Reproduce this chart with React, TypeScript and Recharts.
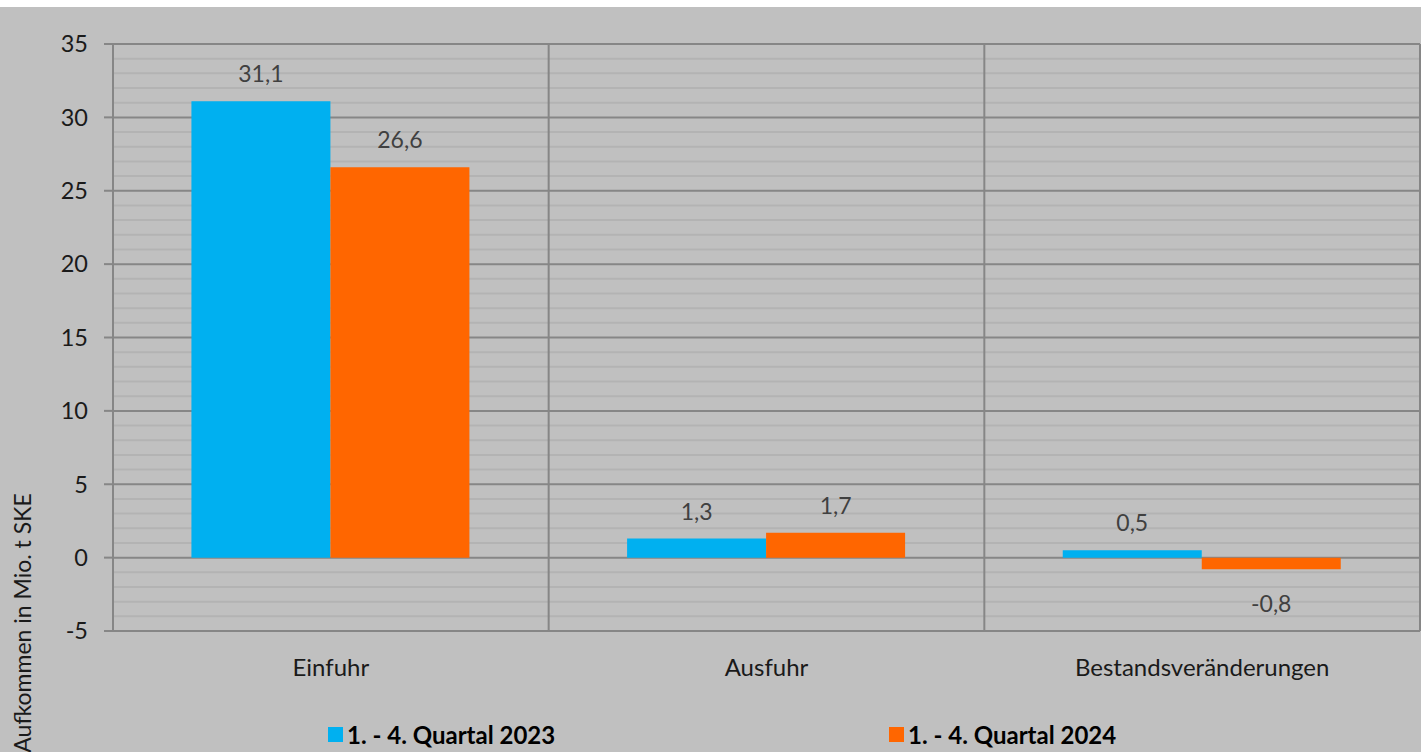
import React from "react";
import { BarChart, Bar, XAxis, YAxis, CartesianGrid, Legend, LabelList } from "recharts";

const categories = ["Einfuhr", "Ausfuhr", "Bestandsveränderungen"];
const series2023 = [31.1, 1.3, 0.5];
const series2024 = [26.6, 1.7, -0.8];
const seriesNames = ["1. - 4. Quartal 2023", "1. - 4. Quartal 2024"];
const yTicks = [-5, 0, 5, 10, 15, 20, 25, 30, 35];
const minorTicks = [-4, -3, -2, -1, 1, 2, 3, 4, 6, 7, 8, 9, 11, 12, 13, 14, 16, 17, 18, 19, 21, 22, 23, 24, 26, 27, 28, 29, 31, 32, 33, 34];
const Y_MIN = -5;
const Y_MAX = 35;

const data = categories.map((c, i) => ({ name: c, a: series2023[i], b: series2024[i] }));

const COLORS = ["#00B0F0", "#FF6600"];
const FONT = "Lato, 'Open Sans', sans-serif";
const BG = "#c0c0c0";
const MAJOR = "#868686";
const MINOR = "#b3b3b3";

const fmt = (v: number) => String(v).replace(".", ",");

const renderLabel = (props: any) => {
  const { x, y, width, height, value } = props;
  const top = Math.min(y, y + height);
  const bottom = Math.max(y, y + height);
  const neg = value < 0;
  return (
    <text
      x={x + width / 2}
      y={neg ? bottom + 43 : top - 19}
      textAnchor="middle"
      fill="#404040"
      fontSize={23}
      fontFamily={FONT}
    >
      {fmt(value)}
    </text>
  );
};

const renderLegend = () => (
  <div style={{ display: "flex", paddingLeft: 328, paddingTop: 8, fontFamily: FONT, fontWeight: 700, fontSize: 24, color: "#000" }}>
    {seriesNames.map((n, i) => (
      <div key={n} style={{ display: "flex", alignItems: "center", width: i === 0 ? 561 : 300 }}>
        <span style={{ display: "inline-block", width: 15, height: 15, background: COLORS[i], marginRight: 4 }} />
        <span>{n}</span>
      </div>
    ))}
  </div>
);

const YTitle = () => (
  <text
    x={31}
    y={616}
    transform="rotate(-90 31 616)"
    textAnchor="middle"
    fontSize={23}
    fontFamily={FONT}
    fill="#1a1a1a"
  >
    Aufkommen in Mio. t SKE
  </text>
);

export default function App() {
  return (
    <div style={{ position: "absolute", top: 0, left: 0, width: 1421, height: 752, background: "#fff", overflow: "hidden" }}>
      <div style={{ position: "absolute", top: 7, left: 0, width: 1421, height: 745, background: BG }}>
        <BarChart
          width={1421}
          height={745}
          data={data}
          margin={{ top: 37, right: 1, bottom: 0, left: 0 }}
          barCategoryGap="18%"
          barGap={0}
        >
          <CartesianGrid
            stroke={MINOR}
            strokeWidth={2}
            vertical={false}
            horizontalCoordinatesGenerator={({ offset }: any) =>
              minorTicks.map((v) => offset.top + ((Y_MAX - v) / (Y_MAX - Y_MIN)) * offset.height)
            }
          />
          <CartesianGrid
            stroke={MAJOR}
            strokeWidth={2}
            verticalCoordinatesGenerator={({ offset }: any) =>
              categories.map((_, i) => offset.left + ((i + 1) * offset.width) / categories.length)
            }
          />
          <XAxis
            dataKey="name"
            axisLine={false}
            tickLine={false}
            tickSize={0}
            tickMargin={28}
            height={81}
            tick={{ fill: "#1a1a1a", fontSize: 24, fontFamily: FONT }}
          />
          <YAxis
            domain={[Y_MIN, Y_MAX]}
            ticks={yTicks}
            interval={0}
            width={113}
            axisLine={{ stroke: MAJOR, strokeWidth: 2 }}
            tickLine={{ stroke: MAJOR, strokeWidth: 2 }}
            tickSize={9}
            tickMargin={16}
            tick={{ fill: "#1a1a1a", fontSize: 23.5, fontFamily: FONT }}
            label={{ content: () => <YTitle /> }}
          />
          <Legend verticalAlign="bottom" height={40} content={renderLegend} />
          <Bar dataKey="a" name={seriesNames[0]} fill={COLORS[0]} isAnimationActive={false}>
            <LabelList dataKey="a" content={renderLabel} />
          </Bar>
          <Bar dataKey="b" name={seriesNames[1]} fill={COLORS[1]} isAnimationActive={false}>
            <LabelList dataKey="b" content={renderLabel} />
          </Bar>
        </BarChart>
      </div>
    </div>
  );
}
